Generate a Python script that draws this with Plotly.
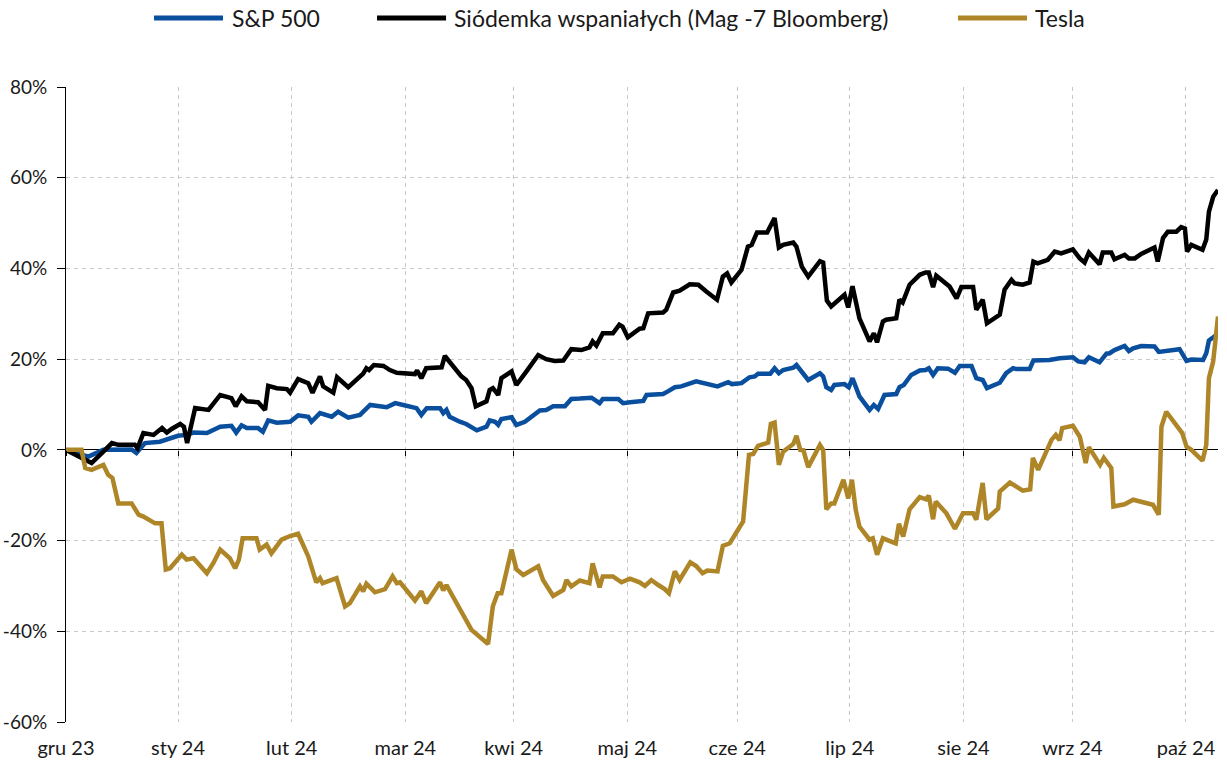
import plotly.graph_objects as go

# ---- data (trading-session index since start, % change) ----
month_labels = ["gru 23", "sty 24", "lut 24", "mar 24", "kwi 24", "maj 24",
                "cze 24", "lip 24", "sie 24", "wrz 24", "paź 24"]
month_session = [0, 21.0, 42.3, 63.6, 83.9, 105.2, 125.8, 146.9, 168.2, 188.6, 209.9]
last_session = 215.9

y_tick_values = [-60, -40, -20, 0, 20, 40, 60, 80]
y_tick_labels = ["-60%", "-40%", "-20%", "0%", "20%", "40%", "60%", "80%"]

sp500_session = [0, 4.2, 7, 12.3, 13.2, 14.8, 17.6, 19.5, 21, 22.6, 23.9, 26.4, 28.9, 31, 31.9, 32.9, 33.9,
                 36.0, 36.9, 37.9, 39.5, 42, 43.5, 45.4, 46, 47.6, 49.8, 51, 52.9, 55.1, 57, 60.1, 61.7, 63.2,
                 65.7, 66.6, 67.6, 70.1, 70.7, 71.3, 71.9, 73.8, 75, 77, 78.8, 79.4, 80.4, 81, 81.6, 83.5, 84.4,
                 86, 88.8, 90, 91.3, 93.5, 94.7, 96.3, 98.5, 100, 100.6, 103.5, 104.4, 105.7, 108.2, 108.8,
                 111.9, 112.8, 114.1, 115.3, 118.1, 122.1, 124.1, 124.8, 126.6, 128.1, 129.1, 129.7, 132,
                 132.8, 133.6, 134.4, 136.3, 136.9, 139.1, 141.3, 141.9, 142.5, 143.4, 144, 145.9, 146.7,
                 147.4, 148.7, 150.6, 151.4, 152.2, 153.4, 155.6, 156.2, 157, 158.4, 160, 161.1, 161.7,
                 162.5, 163.4, 165.3, 166.6, 167.5, 169.7, 170.6, 171.8, 172.6, 175, 176.2, 177.5, 178.1,
                 180.6, 181.3, 184.3, 186.2, 188.7, 189.7, 190.9, 191.7, 193.7, 195, 195.6, 196.5, 198.4,
                 199.2, 200, 201.5, 204, 204.8, 208.7, 210, 210.9, 213.1, 213.7, 214.2, 215.3, 215.9]
sp500_pct = [0, -1.5, 0, 0.1, -0.7, 1.5, 1.8, 2.6, 3.1, 3.3, 3.8, 3.7, 5.1, 5.3, 3.8, 5.4, 4.8,
             4.8, 4.0, 6.5, 6.0, 6.2, 7.6, 7.3, 6.2, 8.1, 7.3, 8.4, 7.1, 7.7, 9.9, 9.4, 10.3, 9.9,
             9.2, 7.7, 9.2, 9.2, 8.1, 8.8, 7.3, 6.2, 5.7, 4.3, 5.1, 6.5, 6.2, 5.5, 6.8, 7.2, 5.5,
             6.2, 8.7, 8.8, 9.6, 9.6, 11.2, 11.3, 11.5, 10.3, 11.2, 11.2, 10.3, 10.5, 10.8, 12.1,
             12.3, 12.9, 13.8, 14.0, 15.1, 14.0, 14.9, 14.5, 14.7, 16.0, 16.2, 16.8, 16.8,
             18.0, 16.9, 17.6, 18.1, 18.7, 15.4, 16.9, 16.2, 13.8, 13.2, 14.3, 14.5, 13.8,
             15.8, 11.8, 8.8, 9.9, 9.0, 12.1, 12.3, 13.8, 14.3, 16.5, 17.5, 17.6, 18.0,
             16.5, 18.0, 17.9, 17.0, 18.5, 18.5, 15.8, 15.4, 13.6, 14.8, 16.9, 18.0, 17.8,
             17.8, 19.7, 19.8, 20.2, 20.4, 19.5, 19.3, 20.4, 19.3, 21.2, 21.3, 22.0, 22.9,
             21.8, 22.4, 22.9, 22.8, 21.6, 22.2, 19.6, 19.9, 19.8, 21.3, 24.1, 25.1, 25.6]

mag7_session = [0, 4.8, 7, 8.6, 9.8, 12.9, 13.4, 14.5, 16.4, 18, 18.9, 19.8, 21.4, 22.1, 22.7, 24.2, 26.7,
                27.7, 28.9, 31, 31.8, 32.9, 33.9, 36, 37.3, 37.9, 39.5, 41.4, 42, 43.5, 45.4, 46.2, 47.6,
                48.2, 50.1, 50.8, 52.9, 55.7, 56.3, 56.8, 57.7, 59.5, 60.7, 62, 65.4, 65.8, 66.6, 67.5,
                70.4, 71, 72.6, 74.1, 75, 76, 76.8, 78.8, 79.4, 80, 81, 81.6, 83.5, 84.4, 86.3, 88.5, 90,
                91.6, 93.2, 94.7, 96.6, 98.1, 98.7, 99.4, 100.6, 102.5, 103.7, 104.3, 105.3, 107.5, 108.2,
                109.1, 111.9, 112.5, 113.8, 115, 116.9, 118.5, 120, 122, 123.1, 123.9, 124.7, 126.6,
                127.8, 128.5, 129.5, 131.4, 132.8, 133.6, 134.4, 136.3, 136.9, 137.9, 139.1, 141.3,
                141.9, 142.6, 143.4, 144.4, 145.9, 146.6, 147.4, 148.7, 150.6, 151.4, 152, 153.1, 153.7,
                155.6, 156.2, 156.8, 158.1, 160, 161.1, 161.7, 162.5, 163.1, 165.6, 166.9, 167.8, 170,
                170.6, 171.8, 172.6, 175, 175.9, 177.2, 177.8, 179.3, 180.6, 181.3, 182.1, 184, 185.3,
                186.5, 188.7, 190, 190.9, 191.7, 193.7, 194.3, 195.9, 196.5, 198.4, 199.2, 200.3, 201.5,
                204, 204.6, 205.6, 206.5, 208.1, 209, 209.7, 210.1, 210.9, 213, 213.7, 214.2, 215, 215.9]
mag7_pct = [0, -2.9, -0.4, 1.5, 1.1, 1.1, 0.4, 3.7, 3.3, 4.8, 3.8, 4.6, 5.7, 5.1, 1.5, 9.2, 8.8,
            10.3, 12.1, 11.4, 9.6, 11.8, 10.7, 10.5, 8.8, 14.1, 13.6, 13.4, 12.6, 15.6, 14.7, 12.6, 16.2,
            14.0, 12.6, 16.0, 13.8, 16.8, 18.0, 17.6, 18.7, 18.5, 17.6, 17.0, 16.7, 17.5, 15.8, 18.0,
            18.2, 20.7, 18.5, 16.2, 15.4, 13.6, 9.6, 10.7, 13.2, 13.6, 12.1, 15.8, 17.3, 14.3, 17.3, 20.9, 20.0,
            19.6, 19.7, 22.2, 22.0, 22.6, 23.9, 23.0, 25.7, 25.7, 27.6, 27.2, 24.8, 26.7, 26.8,
            30.1, 30.3, 30.9, 34.7, 35.1, 36.5, 36.4, 34.9, 33.1, 38.2, 38.9, 36.9, 39.7,
            44.8, 45.2, 47.9, 47.9, 51.1, 44.6, 45.2, 45.7, 44.8, 40.4, 38.2, 41.6,
            41.3, 32.9, 31.6, 32.7, 34.2, 31.4, 36.1, 29.0, 23.9, 25.7, 23.7, 28.3, 28.7,
            29.0, 33.1, 32.5, 36.4, 38.6, 39.1, 39.1, 35.9, 38.4, 36.0, 33.4, 35.9, 35.9,
            30.9, 33.1, 27.9, 29.8, 35.3, 37.5, 36.7, 36.4, 36.9, 41.5, 41.1, 41.9, 43.7,
            43.3, 44.2, 42.2, 41.3, 43.5, 40.9, 43.5, 43.5, 42.0, 43.0, 42.2, 42.2, 43.2,
            44.6, 41.5, 46.7, 48.1, 48.1, 49.1, 48.8, 43.7, 45.2, 44.1, 46.4, 52.5, 55.8, 57.3]

tesla_session = [0, 2.9, 3.6, 4.8, 7, 7.9, 8.7, 9.8, 12.3, 13.6, 14.5, 16.7, 17.9, 18.7, 19.5, 21.7, 22.6,
                 23.9, 26.4, 27.6, 28.9, 30.7, 31.7, 32.4, 33.1, 35.7, 36.3, 37.6, 38.5, 40.4, 42, 43.5,
                 45.4, 46.3, 46.9, 47.6, 48.1, 50.7, 52.3, 53.2, 55.1, 55.7, 56.3, 57.9, 59.8, 61.2, 62,
                 62.6, 65.4, 66.6, 67.5, 70.1, 70.7, 71.3, 73.2, 75.1, 76, 79.1, 80, 80.9, 81.6, 83.5,
                 84.4, 85.7, 88.5, 89.4, 91.3, 93.2, 93.8, 94.7, 96.3, 98.1, 98.7, 100, 100.6, 102.5,
                 104.1, 105.7, 107.5, 108.5, 109.7, 111, 112.2, 113, 114.1, 115, 117, 118.1, 119.3,
                 120.2, 122.1, 123.1, 124.4, 126.9, 128, 128.8, 129.7, 131.6, 132.1, 132.8, 133.6,
                 134.4, 136.3, 136.9, 137.6, 138.2, 139.1, 141.3, 141.9, 142.5, 143.4, 144, 145.7,
                 146.6, 147.3, 148, 148.7, 150.6, 151.2, 152, 153.1, 155.5, 156.1, 156.9, 158.1, 160,
                 161.2, 161.7, 162.5, 163, 165, 166.6, 168.1, 170, 170.6, 171.8, 172.5, 174.7, 175,
                 176.9, 179.3, 180.7, 181.2, 182.2, 183.4, 184.7, 185.5, 186.2, 186.7, 188.7, 190,
                 191.1, 191.7, 193.1, 193.8, 194.5, 195.9, 196.3, 198.4, 200, 201.5, 203.7, 204.8,
                 205.3, 206.2, 209.2, 210, 210.9, 213, 213.7, 214.2, 215, 215.9]
tesla_pct = [0, 0, -4.0, -4.4, -3.3, -5.5, -6.2, -11.8, -11.8, -14.3, -14.7, -16.2, -16.2, -26.4, -26.1, -23.1, -24.2,
             -23.9, -27.2, -25.0, -22.0, -23.9, -26.1, -24.2, -19.5, -19.5, -22.0, -20.9, -22.8, -19.8, -19.0, -18.5,
             -23.5, -27.2, -29.2, -28.3, -29.4, -28.3, -34.5, -33.8, -30.1, -31.2, -29.5, -31.4, -30.7, -27.9, -29.4,
             -29.2, -33.2, -31.2, -33.8, -29.2, -31.0, -29.8, -33.8, -37.5, -39.7, -42.8, -34.5, -31.6, -31.6, -22.0,
             -26.3, -27.6, -25.7, -28.7, -32.2, -30.9, -28.7, -30.1, -28.8, -29.4, -25.0, -30.3, -27.9, -27.9,
             -29.2, -28.4, -29.2, -30.0, -28.7, -29.8, -30.7, -31.6, -26.8, -28.7, -24.8, -25.6, -27.2,
             -26.6, -26.8, -21.2, -20.6, -15.8, -1.1, -0.9, 0.9, 1.6, 5.7, 6.0, -3.3,
             -0.4, 1.3, 3.1, 0.0, -0.1, -3.8, 1.1, 0.0, -13.1, -11.8, -11.8, -6.6,
             -10.7, -6.6, -13.2, -16.9, -19.8, -19.5, -23.1, -19.5, -20.6, -16.3, -19.1, -13.1, -10.4,
             -10.9, -10.1, -15.3, -11.4, -14.0, -17.4, -14.0, -14.0, -15.4, -7.3, -15.3, -12.9, -9.2,
             -7.2, -9.0, -8.7, -1.8, -4.4, -1.1, 2.2, 3.3, 2.1, 4.8, 5.3, 2.9,
             -2.9, 0.6, -2.2, -3.3, -1.8, -4.0, -12.5, -12.0, -11.0, -11.4, -12.1, -14.3,
             5.1, 8.4, 3.7, 0.7, 0.0, -2.4, 1.1, 15.8, 19.5, 29.4]

series_names = ["S&P 500", "Siódemka wspaniałych (Mag -7 Bloomberg)", "Tesla"]
series_colors = ["#0A4F9E", "#000000", "#AE8628"]

FONT = "Lato, 'Open Sans', 'DejaVu Sans', sans-serif"
TEXT_COLOR = "#1a1a1a"

fig = go.Figure()
for name, xs, ys, col in zip(series_names,
                             [sp500_session, mag7_session, tesla_session],
                             [sp500_pct, mag7_pct, tesla_pct],
                             series_colors):
    fig.add_trace(go.Scatter(x=xs, y=ys, name=name, mode="lines",
                             line=dict(color=col, width=4.5, shape="linear"),
                             showlegend=False))

# helper trace so the zero-level tick axis is rendered
fig.add_trace(go.Scatter(x=[month_session[0]], y=[None], xaxis="x2", mode="lines",
                         showlegend=False, hoverinfo="skip"))

# custom legend (long line keys like the original)
legend_y = 1.1087
legend_keys = [(0.0764, 0.1363, 0.1424), (0.2700, 0.3299, 0.3351), (0.7743, 0.8342, 0.8394)]
shapes = []
annotations = []
for (x0, x1, xt), name, col in zip(legend_keys, series_names, series_colors):
    shapes.append(dict(type="line", xref="paper", yref="paper", x0=x0, x1=x1,
                       y0=legend_y, y1=legend_y, line=dict(color=col, width=5)))
    annotations.append(dict(xref="paper", yref="paper", x=xt, y=legend_y, text=name,
                            showarrow=False, xanchor="left", yanchor="middle",
                            font=dict(family=FONT, size=23, color=TEXT_COLOR)))

grid_color = "#C8C8C8"
fig.update_layout(
    width=1227, height=768,
    margin=dict(l=66, r=9, t=87, b=46, pad=0, autoexpand=False),
    paper_bgcolor="white", plot_bgcolor="white",
    font=dict(family=FONT, size=20, color=TEXT_COLOR),
    shapes=shapes, annotations=annotations,
    showlegend=False,
    xaxis=dict(range=[0, last_session], tickmode="array", tickvals=month_session,
               ticktext=month_labels, showgrid=True, gridcolor=grid_color, griddash="4px,4px",
               gridwidth=1, zeroline=False, showline=False, ticks="", automargin=False,
               tickfont=dict(family=FONT, size=20, color=TEXT_COLOR), ticklabelstandoff=12),
    xaxis2=dict(range=[0, last_session], overlaying="x", anchor="free", position=60 / 140,
                side="bottom", tickmode="array", tickvals=month_session, showticklabels=False,
                ticks="outside", ticklen=5, tickcolor="black", tickwidth=1, automargin=False,
                showgrid=False, zeroline=False, showline=False),
    yaxis=dict(range=[-60, 80], tickmode="array", tickvals=y_tick_values, ticktext=y_tick_labels,
               showgrid=True, gridcolor=grid_color, griddash="4px,4px", gridwidth=1,
               zeroline=True, zerolinecolor="black", zerolinewidth=1,
               showline=True, linecolor="black", linewidth=1, automargin=False,
               ticks="outside", ticklen=8, tickcolor="black", tickwidth=1,
               tickfont=dict(family=FONT, size=19, color=TEXT_COLOR), ticklabelstandoff=6),
)

fig.write_html("out.html", config={"displayModeBar": False},
               post_script="document.body.style.margin='0';document.body.style.overflow='hidden';")
